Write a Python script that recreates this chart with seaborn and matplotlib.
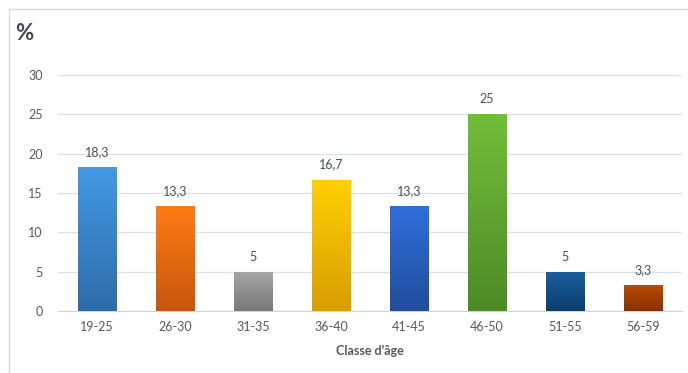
import matplotlib
matplotlib.use("Agg")
import matplotlib.pyplot as plt
from matplotlib.colors import LinearSegmentedColormap
from matplotlib.patches import Rectangle
import numpy as np
import pandas as pd
import seaborn as sns

# data
classes = ["19-25", "26-30", "31-35", "36-40", "41-45", "46-50", "51-55", "56-59"]
values = [18.3, 13.3, 5, 16.7, 13.3, 25, 5, 3.3]
labels = ["18,3", "13,3", "5", "16,7", "13,3", "25", "5", "3,3"]
top_colors = ["#4499E3", "#FF7B14", "#A6A6A6", "#FFD000", "#2F6FDA", "#71BE39", "#1B5FA1", "#B94B00"]
bottom_colors = ["#2D6CAA", "#C8560E", "#787878", "#D99D00", "#224D9C", "#4D8B27", "#0D3E6D", "#893000"]

sns.set_style("white")
plt.rcParams['font.family'] = ['Lato', 'DejaVu Sans']

df = pd.DataFrame({"classe": classes, "pct": values})

fig = plt.figure(figsize=(6.88, 3.73), dpi=100)
ax = fig.add_axes([58/688, 1-311/373, 624/688, 236/373])

sns.barplot(data=df, x="classe", y="pct", width=0.5, color="white", ax=ax)

# gradient fill for each bar
for p, c1, c2 in zip(ax.patches, top_colors, bottom_colors):
    x0, y0 = p.get_x(), p.get_y()
    w, h = p.get_width(), p.get_height()
    cmap = LinearSegmentedColormap.from_list("g", [c2, c1])
    grad = np.linspace(0, 1, 100).reshape(-1, 1)
    im = ax.imshow(grad, cmap=cmap, aspect="auto", origin="lower",
                   extent=[x0, x0+w, y0, y0+h], zorder=3)
    im.set_clip_path(p)
    p.set_edgecolor("none")
ax.set_xlim(-0.5, len(classes)-0.5)
ax.set_ylim(0, 30)
ax.set_yticks([0, 5, 10, 15, 20, 25, 30])

for i, (v, t) in enumerate(zip(values, labels)):
    ax.text(i, v + 1.15, t, ha="center", va="bottom", fontsize=9, color="#44505F")

ax.grid(axis="y", color="#DCDFE8", lw=0.9)
ax.set_axisbelow(True)
for s in ["top", "right", "left"]:
    ax.spines[s].set_visible(False)
ax.spines["bottom"].set_color("#D0D3DC")
ax.tick_params(axis="both", length=0, labelsize=9, colors="#595959")
ax.tick_params(axis="y", pad=11)
ax.tick_params(axis="x", pad=7)
ax.set_ylabel("")
ax.set_xlabel("Classe d'âge", fontsize=9, fontweight="bold", color="#595959", labelpad=9)

fig.text(15/688, 1-33/373, "%", fontsize=16, fontweight="bold", color="#404858", va="center", ha="left")

fig.patches.append(Rectangle((9/688, -0.1), 1.1, 1-9/373+0.1, transform=fig.transFigure,
                             fill=False, edgecolor="#D9D9D9", lw=1))

fig.savefig("out.png", dpi=100)
